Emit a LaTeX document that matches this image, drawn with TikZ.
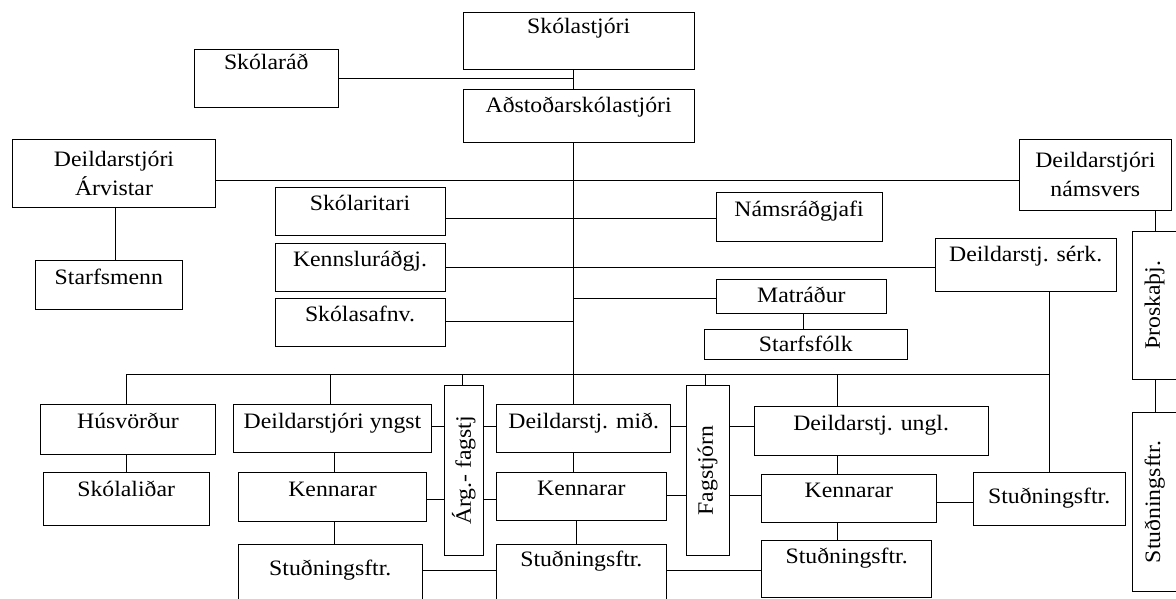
\documentclass[tikz,border=0pt]{standalone}
\usepackage{fontspec}
\setmainfont{Liberation Serif}[FakeStretch=1.08]
\begin{document}
\begin{tikzpicture}[x=1pt,y=-1pt,
  every node/.style={font=\fontsize{22}{29.4}\selectfont},
  box/.style={draw, line width=1pt, inner sep=0pt},
  rbox/.style={draw, line width=1pt, inner sep=0pt, rotate=90},
  every path/.style={line width=1pt}]
\useasboundingbox (0,0) rectangle (1176,599);
% boxes
\node[box, minimum width=230.7pt, text height=21.7pt, text depth=36pt] (skolastjori) at (578.65,41.15) {Skólastjóri};
\node[box, minimum width=143.9pt, text height=20.7pt, text depth=37.7pt] (skolarad) at (266.25,78.5) {Skólaráð};
\node[box, minimum width=230.7pt, text height=23.4pt, text depth=30pt] (adstod) at (578.65,116) {Aðstoðarskólastjóri};
\node[box, align=center, minimum width=202.6pt, minimum height=68.4pt] (arvist) at (114,173.5) {Deildarstjóri\\Árvistar};
\node[box, minimum width=147.7pt, text height=23.3pt, text depth=25pt] (starfsmenn) at (108.85,284.85) {Starfsmenn};
\node[box, minimum width=170pt, text height=23.7pt, text depth=24.3pt] (skolaritari) at (360,211.3) {Skólaritari};
\node[box, minimum width=170pt, text height=23.4pt, text depth=24.3pt] (kennslu) at (360,267.15) {Kennsluráðgj.};
\node[box, minimum width=170pt, text height=22.7pt, text depth=25.3pt] (skolasafn) at (360,322.3) {Skólasafnv.};
\node[box, minimum width=166pt, text height=24.4pt, text depth=24.3pt] (namsrad) at (799,216.65) {Námsráðgjafi};
\node[box, align=center, minimum width=152.7pt, minimum height=70.7pt] (namsvers) at (1095.35,174.65) {Deildarstjóri\\námsvers};
\node[box, minimum width=180.7pt, text height=23.4pt, text depth=29.3pt] (serk) at (1025.65,264.65) {Deildarstj. sérk.};
\node[box, minimum width=170.7pt, text height=22.6pt, text depth=11.4pt] (matradur) at (801.35,296.7) {Matráður};
\node[box, minimum width=203pt, text height=22.7pt, text depth=7.6pt] (starfsfolk) at (805.8,344.15) {Starfsfólk};
\node[rbox, minimum width=148.3pt, minimum height=44.7pt] (throska) at (1154.65,305.15) {Þroskaþj.};
\node[rbox, minimum width=179.4pt, minimum height=44.7pt] (studnV) at (1154.65,502) {Stuðningsftr.};
\node[box, minimum width=174.6pt, text height=24pt, text depth=26pt] (husv) at (128,429.3) {Húsvörður};
\node[box, minimum width=165.7pt, text height=24.4pt, text depth=28.6pt] (skolalid) at (126.15,498.8) {Skólaliðar};
\node[box, minimum width=198.4pt, text height=24pt, text depth=24.4pt] (yngst) at (332.5,428.5) {Deildarstjóri yngst};
\node[box, minimum width=188.4pt, text height=24.4pt, text depth=24.3pt] (kenn1) at (332.5,496.65) {Kennarar};
\node[box, minimum width=184pt, text height=31pt, text depth=26pt] (studn1) at (330.3,572.5) {Stuðningsftr.};
\node[rbox, minimum width=169.3pt, minimum height=39pt] (arg) at (463.8,470.35) {Árg.- fagstj};
\node[box, minimum width=174pt, text height=24pt, text depth=24pt] (mid) at (583.7,428.3) {Deildarstj. mið.};
\node[box, minimum width=169.3pt, text height=22.7pt, text depth=25.7pt] (kenn2) at (581.35,496.5) {Kennarar};
\node[box, minimum width=169.3pt, text height=22.7pt, text depth=34.3pt] (studn2) at (581.35,572.5) {Stuðningsftr.};
\node[rbox, minimum width=169.3pt, minimum height=43.3pt] (fagstjorn) at (707.65,470.35) {Fagstjórn};
\node[box, minimum width=234.3pt, text height=24pt, text depth=24.3pt] (ungl) at (871.15,430.85) {Deildarstj. ungl.};
\node[box, minimum width=174.3pt, text height=23.4pt, text depth=25pt] (kenn3) at (848.85,498.5) {Kennarar};
\node[box, minimum width=170pt, text height=22.6pt, text depth=34.4pt] (studn3) at (846.7,569.2) {Stuðningsftr.};
\node[box, minimum width=151.7pt, text height=30.6pt, text depth=21.7pt] (studnR) at (1049.15,498.85) {Stuðningsftr.};
% helper coordinates
\coordinate (xM) at (573,0);
\coordinate (xH) at (126,0);
\coordinate (xY) at (330,0);
\coordinate (xK1) at (334.3,0);
\coordinate (xS2) at (576.7,0);
\coordinate (xU) at (837,0);
\coordinate (xSR) at (1049,0);
\coordinate (xT) at (1155,0);
\coordinate (xAv) at (115,0);
\coordinate (xMat) at (803.3,0);
\coordinate (xArg) at (462.7,0);
\coordinate (xFag) at (705,0);
\coordinate (yBus) at (0,374);
\coordinate (yAr) at (0,180.7);
\coordinate (ySr) at (0,218.7);
\coordinate (yKr) at (0,267.7);
\coordinate (ySf) at (0,321);
\coordinate (yMt) at (0,298.3);
\coordinate (ySk) at (0,79);
\coordinate (yD) at (0,426.7);
\coordinate (yK1) at (0,499.3);
\coordinate (yK2) at (0,495);
\coordinate (yK3) at (0,502.7);
\coordinate (yS) at (0,570.7);
% connectors
\draw (skolastjori.south -| xM) -- (adstod.north -| xM);
\draw (skolarad.east |- ySk) -- (xM |- ySk);
\draw (adstod.south -| xM) -- (xM |- yBus);
\draw (arvist.east |- yAr) -- (namsvers.west |- yAr);
\draw (arvist.south -| xAv) -- (starfsmenn.north -| xAv);
\draw (skolaritari.east |- ySr) -- (namsrad.west |- ySr);
\draw (kennslu.east |- yKr) -- (serk.west |- yKr);
\draw (skolasafn.east |- ySf) -- (xM |- ySf);
\draw (xM |- yMt) -- (matradur.west |- yMt);
\draw (matradur.south -| xMat) -- (starfsfolk.north -| xMat);
\draw (namsvers.south -| xT) -- (throska.east -| xT);
\draw (throska.west -| xT) -- (studnV.east -| xT);
\draw (serk.south -| xSR) -- (studnR.north -| xSR);
\draw (xH |- yBus) -- (xSR |- yBus);
\draw (xH |- yBus) -- (husv.north -| xH);
\draw (husv.south -| xH) -- (skolalid.north -| xH);
\draw (xY |- yBus) -- (yngst.north -| xY);
\draw (yngst.south -| xK1) -- (kenn1.north -| xK1);
\draw (kenn1.south -| xK1) -- (studn1.north -| xK1);
\draw (xArg |- yBus) -- (arg.east -| xArg);
\draw (xM |- yBus) -- (mid.north -| xM);
\draw (mid.south -| xM) -- (kenn2.north -| xM);
\draw (kenn2.south -| xS2) -- (studn2.north -| xS2);
\draw (xFag |- yBus) -- (fagstjorn.east -| xFag);
\draw (xU |- yBus) -- (ungl.north -| xU);
\draw (ungl.south -| xU) -- (kenn3.north -| xU);
\draw (kenn3.south -| xU) -- (studn3.north -| xU);
\draw (yngst.east |- yD) -- (arg.north |- yD);
\draw (arg.south |- yD) -- (mid.west |- yD);
\draw (mid.east |- yD) -- (fagstjorn.north |- yD);
\draw (fagstjorn.south |- yD) -- (ungl.west |- yD);
\draw (kenn1.east |- yK1) -- (arg.north |- yK1);
\draw (arg.south |- yK1) -- (kenn2.west |- yK1);
\draw (kenn2.east |- yK2) -- (fagstjorn.north |- yK2);
\draw (fagstjorn.south |- yK2) -- (kenn3.west |- yK2);
\draw (kenn3.east |- yK3) -- (studnR.west |- yK3);
\draw (studn1.east |- yS) -- (studn2.west |- yS);
\draw (studn2.east |- yS) -- (studn3.west |- yS);
\end{tikzpicture}
\end{document}
